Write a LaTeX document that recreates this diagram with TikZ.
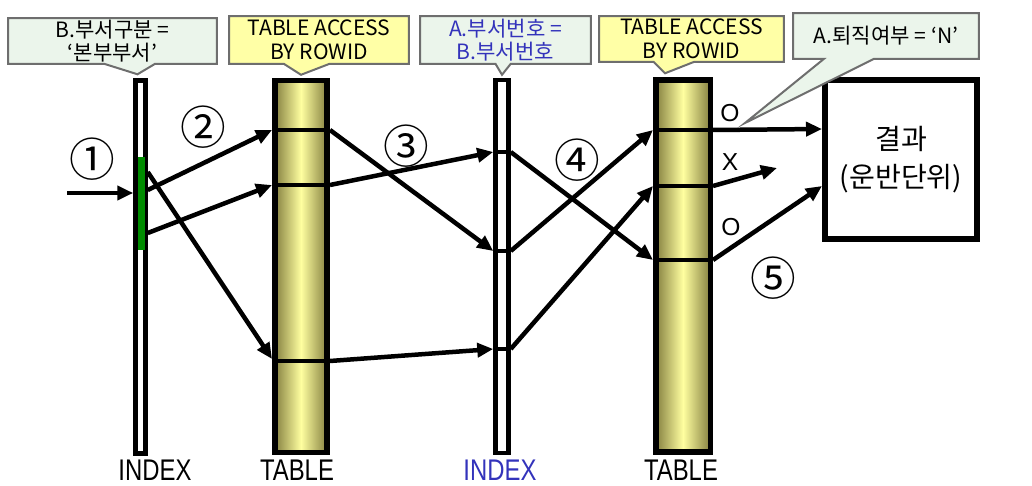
\documentclass[tikz,border=0pt]{standalone}
\usepackage{fontspec}
\setmainfont{Noto Sans CJK KR}
\newfontfamily\latinfont{Liberation Sans}
\usetikzlibrary{arrows.meta,shapes.callouts}
\definecolor{notegreen}{HTML}{EBF5EB}
\definecolor{noteyellow}{HTML}{FFFFA6}
\definecolor{notegray}{HTML}{6E6E6E}
\definecolor{barolive}{HTML}{858040}
\definecolor{barlight}{HTML}{FFFFA0}
\definecolor{idxgreen}{HTML}{008C00}
\definecolor{idxblue}{HTML}{3333BB}

\begin{document}
\begin{tikzpicture}[x=0.02cm, y=-0.02cm,
        idx/.style={rectangle, draw, line width=0.09cm, fill=white, inner sep=0pt, minimum height=7.46cm},
        tbl/.style={rectangle, draw, line width=0.11cm, left color=barolive, right color=barolive, middle color=barlight, inner sep=0pt, minimum height=7.44cm},
        note/.style={rectangle callout, draw=notegray, line width=0.04cm, align=center, inner sep=0pt, font=\fontsize{12}{13.5}\selectfont},
        notegr/.style={note, fill=notegreen},
        noteye/.style={note, fill=noteyellow},
        row/.style={line width=0.09cm},
        arr/.style={line width=0.09cm, -{Triangle[length=0.32cm,width=0.28cm]}},
        num/.style={inner sep=0pt, font=\fontsize{26}{26}\selectfont},
        ox/.style={inner sep=0pt, font=\latinfont\fontsize{14}{14}\selectfont},
        collabel/.style={inner sep=0pt, xscale=0.8, font=\latinfont\fontsize{17}{17}\selectfont}
    ]
    \useasboundingbox (0,0) rectangle (1032,486);

    % columns
    \node[idx, minimum width=0.2cm] (ix1) at (140.5,267) {};
    \node[fill=idxgreen, inner sep=0pt, minimum width=0.14cm, minimum height=1.86cm] (ix1g) at (141,203.5) {};
    \node[tbl, minimum width=1.05cm] (tb1) at (301,266.5) {};
    \node[idx, minimum width=0.26cm] (ix2) at (502,266.5) {};
    \node[tbl, minimum width=1.09cm] (tb2) at (683,266) {};
    \node[rectangle, draw, line width=0.12cm, minimum width=3.04cm, minimum height=3.18cm, align=center,
        font=\fontsize{16}{22}\selectfont] (res) at (901,159.5) {결과\\(운반단위)};

    % rows
    \foreach \y in {130,185,361} \draw[row] (tb1.west |- 0,\y) -- (tb1.east |- 0,\y);
    \foreach \y in {152,251,349} \draw[row] (ix2.west |- 0,\y) -- (ix2.east |- 0,\y);
    \foreach \y in {130,186,260} \draw[row] (tb2.west |- 0,\y) -- (tb2.east |- 0,\y);

    % notes
    \coordinate (okTip) at (745,123);
    \node[notegr, minimum width=4.18cm, minimum height=0.92cm, callout pointer width=1cm,
        callout absolute pointer={([xshift=-0.06cm,yshift=0.08cm]ix1.north)}] (nt1) at (112.5,41) {B.부서구분 =\\‘본부부서’};
    \node[noteye, minimum width=3.6cm, minimum height=0.96cm, callout pointer width=0.9cm,
        callout absolute pointer={([yshift=0.06cm]tb1.north)}] (nt2) at (319,40) {TABLE ACCESS\\BY ROWID};
    \node[notegr, text=idxblue, minimum width=3.42cm, minimum height=0.96cm, callout pointer width=0.3cm,
        callout absolute pointer={([yshift=0.06cm]ix2.north)}] (nt3) at (505.5,40) {A.부서번호 =\\B.부서번호};
    \node[noteye, minimum width=3.7cm, minimum height=0.92cm, callout pointer width=0.8cm,
        callout absolute pointer={([xshift=-0.36cm,yshift=0.08cm]tb2.north)}] (nt4) at (691.5,39) {TABLE ACCESS\\BY ROWID};
    \node[notegr, minimum width=3.72cm, minimum height=0.92cm, callout pointer width=1cm,
        callout absolute pointer={(okTip)}] (nt5) at (886,36) {A.퇴직여부 = ‘N’};

    % step 1, 2
    \coordinate (in1) at (67,193);
    \draw[arr] (in1) -- (ix1.west |- 0,193);
    \draw[arr] (ix1.east |- 0,190) -- (tb1.west |- 0,130);
    \draw[arr] (ix1.east |- 0,233) -- (tb1.west |- 0,185);
    \draw[arr] (ix1.east |- 0,172) -- (tb1.west |- 0,359);
    % step 3
    \draw[arr] (tb1.east |- 0,130) -- (ix2.west |- 0,251);
    \draw[arr] (tb1.east |- 0,185) -- (ix2.west |- 0,152);
    \draw[arr] (tb1.east |- 0,361) -- (ix2.west |- 0,349);
    % step 4
    \draw[arr] (ix2.east |- 0,152) -- (tb2.west |- 0,260);
    \draw[arr] (ix2.east |- 0,251) -- (tb2.west |- 0,130);
    \draw[arr] (ix2.east |- 0,349) -- (tb2.west |- 0,186);
    % step 5
    \coordinate (xEnd) at (777,168);
    \draw[arr] (tb2.east |- 0,130) -- (res.west |- 0,129);
    \draw[arr] (tb2.east |- 0,186) -- (xEnd);
    \draw[arr] (tb2.east |- 0,260) -- (res.west |- 0,186);

    \node[num] (n1) at (92,159) {①};
    \node[num] (n2) at (203,127) {②};
    \node[num] (n3) at (406,146) {③};
    \node[num] (n4) at (577,160) {④};
    \node[num] (n5) at (773,278) {⑤};
    \node[ox] (o1) at (730,113) {O};
    \node[ox] (x1) at (730,162) {X};
    \node[ox] (o2) at (731,227) {O};

    \node[collabel] (lb1) at (155,470) {INDEX};
    \node[collabel] (lb2) at (297,470) {TABLE};
    \node[collabel, text=idxblue] (lb3) at (500,470) {INDEX};
    \node[collabel] (lb4) at (681,470) {TABLE};
\end{tikzpicture}
\end{document}
